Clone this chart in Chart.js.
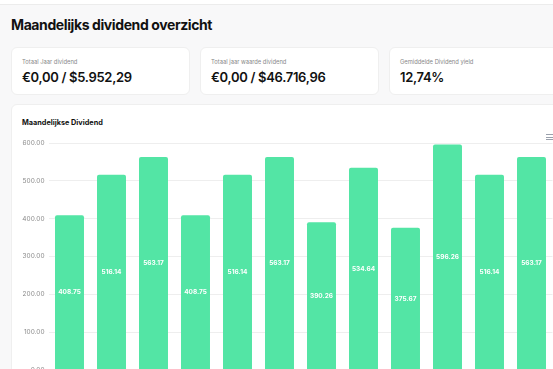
<!DOCTYPE html>
<html>
<head>
<meta charset="utf-8">
<script src="https://cdn.jsdelivr.net/npm/chart.js@4"></script>
<style>
    html, body {
        margin: 0;
        padding: 0;
        width: 553px;
        height: 369px;
        overflow: hidden;
        background: #f8f8f9;
        font-family: "Inter", "Noto Sans", sans-serif;
    }
    .topbar {
        position: absolute; left: 0; top: 0; width: 600px; height: 4px;
        background: #fff; border-bottom: 1px solid #ececec;
    }
    h1 {
        position: absolute; left: 11px; top: 16px; margin: 0;
        font-size: 14px; font-weight: 700; color: #111; letter-spacing: -0.4px;
    }
    .card {
        position: absolute; background: #fff; border-radius: 6px;
        border: 1px solid #efefef; box-sizing: border-box;
    }
    .card .label { position: absolute; left: 10px; top: 10px; font-size: 5.8px; color: #888; }
    .card .value { position: absolute; left: 10px; top: 21px; font-size: 13px; font-weight: 600; color: #111; letter-spacing: -0.3px; }
    .chart-card { left: 11px; top: 104px; width: 560px; height: 300px; }
    .chart-title { position: absolute; left: 10px; top: 13px; font-size: 7.3px; font-weight: 700; color: #111; }
    .menu { position: absolute; left: 546px; top: 134px; width: 8px; }
    .menu div { height: 1px; background: #9aa0ac; margin-bottom: 1.5px; }
    #myChart { position: absolute; left: 0; top: 130px; }
</style>
</head>
<body>
<div class="topbar"></div>
<h1>Maandelijks dividend overzicht</h1>

<div class="card" style="left:11px; top:47px; width:179px; height:48px;">
    <div class="label">Totaal Jaar dividend</div>
    <div class="value">€0,00 / $5.952,29</div>
</div>
<div class="card" style="left:200px; top:47px; width:179px; height:48px;">
    <div class="label">Totaal jaar waarde dividend</div>
    <div class="value">€0,00 / $46.716,96</div>
</div>
<div class="card" style="left:389px; top:47px; width:179px; height:48px;">
    <div class="label">Gemiddelde Dividend yield</div>
    <div class="value">12,74%</div>
</div>

<div class="card chart-card">
    <div class="chart-title">Maandelijkse Dividend</div>
</div>
<canvas id="myChart" width="570" height="250"></canvas>
<div class="menu"><div></div><div></div><div></div></div>

<script>
const months = ["Jan", "Feb", "Mrt", "Apr", "Mei", "Jun", "Jul", "Aug", "Sep", "Okt", "Nov", "Dec"];
const dividends = [408.75, 516.14, 563.17, 408.75, 516.14, 563.17, 390.26, 534.64, 375.67, 596.26, 516.14, 563.17];
const yMin = 0;
const yMax = 600;
const yStep = 100;

// white value labels in the middle of each bar
const barLabels = {
    id: "barLabels",
    afterDatasetsDraw(chart) {
        const ctx = chart.ctx;
        const meta = chart.getDatasetMeta(0);
        ctx.save();
        ctx.fillStyle = "#ffffff";
        ctx.font = "bold 6.5px Inter, sans-serif";
        ctx.textAlign = "center";
        ctx.textBaseline = "middle";
        meta.data.forEach((bar, i) => {
            ctx.fillText(dividends[i].toFixed(2), bar.x, (bar.y + bar.base) / 2);
        });
        ctx.restore();
    },
};

new Chart(document.querySelector("#myChart"), {
    type: "bar",
    data: {
        labels: months,
        datasets: [
            {
                label: "Dividend",
                data: dividends,
                backgroundColor: "#53e5a5",
                borderRadius: { topLeft: 2, topRight: 2 },
                borderSkipped: "start",
                categoryPercentage: 1,
                barPercentage: 0.69,
            },
        ],
    },
    options: {
        responsive: false,
        animation: false,
        layout: { padding: { left: 0, right: 17.5, top: 13, bottom: 10 } },
        plugins: {
            legend: { display: false },
            tooltip: { enabled: false },
        },
        scales: {
            x: {
                display: false,
            },
            y: {
                min: yMin,
                max: yMax,
                ticks: {
                    stepSize: yStep,
                    padding: 4,
                    color: "#8a8a8a",
                    font: { size: 6.5, family: "Inter" },
                    callback: (v) => Number(v).toFixed(2),
                },
                grid: { color: "#eeeeee", drawTicks: false },
                border: { display: false },
                afterFit: (scale) => { scale.width = 48.5; },
            },
        },
    },
    plugins: [barLabels],
});
</script>
</body>
</html>
